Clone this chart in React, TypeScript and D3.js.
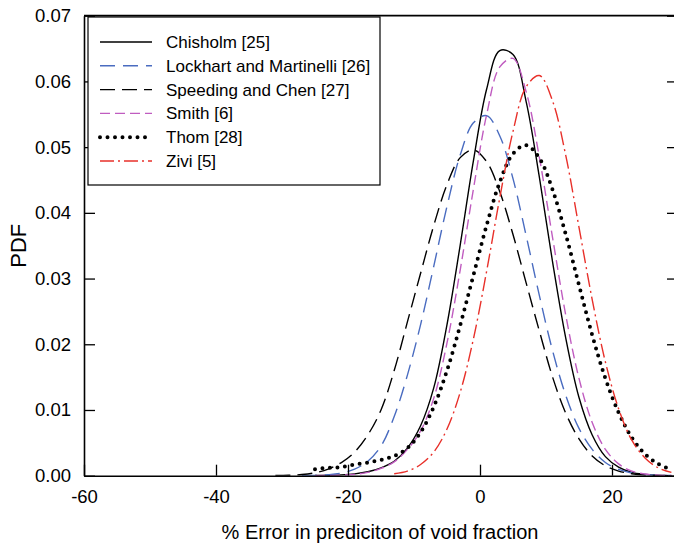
import React, { useEffect, useRef } from 'react';
import * as d3 from 'd3';

const xGrid = [-31, -29, -27, -25, -23, -21, -19, -17, -15, -13, -11, -9, -7, -5, -3, -1, 1, 3, 5, 7, 9, 11, 13, 15, 17, 19, 21, 23, 25, 27, 29];

// PDF values per correlation (null = curve not drawn there)
const chisholm = [null, null, null, 0.00003, 0.00006, 0.00012, 0.00028, 0.0006, 0.0012, 0.0022, 0.0042, 0.0076, 0.0134, 0.023, 0.0351, 0.0479, 0.0588, 0.0647, 0.0641, 0.0569, 0.0454, 0.0325, 0.0209, 0.0119, 0.0062, 0.0029, 0.0013, 0.0005, 0.0002, 0.00005, 0.00001];
const lockhart = [null, null, 0.00002, 0.00005, 0.00015, 0.0004, 0.001, 0.0022, 0.0045, 0.009, 0.0153, 0.023, 0.0319, 0.041, 0.0488, 0.0537, 0.0548, 0.0517, 0.0452, 0.0365, 0.0274, 0.019, 0.0122, 0.0072, 0.004, 0.002, 0.00095, 0.00042, 0.00017, 0.00006, 0.00002];
const speeding = [0.00002, 0.00006, 0.00018, 0.00045, 0.001, 0.002, 0.0036, 0.0062, 0.01, 0.016, 0.0234, 0.0308, 0.0381, 0.0443, 0.0484, 0.0496, 0.0478, 0.0432, 0.0367, 0.0293, 0.022, 0.015, 0.0095, 0.0056, 0.003, 0.0015, 0.0007, 0.0003, 0.0001, 0.00004, 0.00001];
const smith = [null, null, null, 0.00001, 0.00003, 0.00008, 0.0002, 0.0005, 0.0011, 0.0021, 0.004, 0.0068, 0.0118, 0.0202, 0.0313, 0.0436, 0.0549, 0.0622, 0.0635, 0.0584, 0.0484, 0.0362, 0.0244, 0.0148, 0.0081, 0.004, 0.0018, 0.0007, 0.00026, 0.00008, 0.00002];
const thom = [null, null, null, 0.001, 0.0012, 0.0013, 0.0017, 0.002, 0.0024, 0.003, 0.0042, 0.0066, 0.0105, 0.016, 0.0229, 0.0305, 0.0381, 0.0447, 0.049, 0.0503, 0.0483, 0.0435, 0.0367, 0.029, 0.0214, 0.0148, 0.0096, 0.0058, 0.0033, 0.0018, 0.0009];
const zivi = [null, null, null, null, null, null, null, null, null, 0.0003, 0.0007, 0.0017, 0.0036, 0.0071, 0.0127, 0.0208, 0.0311, 0.0423, 0.0524, 0.0592, 0.0609, 0.057, 0.0487, 0.0378, 0.0268, 0.0173, 0.0102, 0.0054, 0.0027, 0.0012, 0.0005];

const seriesNames = ['Chisholm [25]', 'Lockhart and Martinelli [26]', 'Speeding and Chen [27]', 'Smith [6]', 'Thom [28]', 'Zivi [5]'];
const seriesValues = [chisholm, lockhart, speeding, smith, thom, zivi];

const xTicks = [-60, -40, -20, 0, 20];
const yTicks = [0, 0.01, 0.02, 0.03, 0.04, 0.05, 0.06, 0.07];

const styles = [
  { color: '#000000', dash: null as string | null, width: 1.4, cap: 'butt' },
  { color: '#4a6cc0', dash: '15,8', width: 1.4, cap: 'butt' },
  { color: '#000000', dash: '15,7', width: 1.4, cap: 'butt' },
  { color: '#c05cc0', dash: '10,5', width: 1.4, cap: 'butt' },
  { color: '#000000', dash: '0,7.5', width: 4, cap: 'round' },
  { color: '#e8302a', dash: '14,4,2,4', width: 1.4, cap: 'butt' },
];

const font = "'Liberation Sans', Arial, sans-serif";

export default function App() {
  const svgRef = useRef<SVGSVGElement | null>(null);

  useEffect(() => {
    document.body.style.margin = '0';
    const svg = d3.select(svgRef.current!);
    svg.selectAll('*').remove();

    const left = 84;
    const right = 678;
    const top = 15.7;
    const bottom = 475.7;

    const x = d3.scaleLinear().domain([-60, 30]).range([left, right]);
    const y = d3.scaleLinear().domain([0, 0.07]).range([bottom, top]);

    svg
      .append('defs')
      .append('clipPath')
      .attr('id', 'plot-clip')
      .append('rect')
      .attr('x', left)
      .attr('y', top)
      .attr('width', right - left)
      .attr('height', bottom - top);

    // curves
    const line = d3
      .line<[number, number | null]>()
      .defined((d) => d[1] !== null)
      .x((d) => x(d[0]))
      .y((d) => y(d[1] as number))
      .curve(d3.curveCatmullRom.alpha(0.5));

    const curves = svg.append('g').attr('clip-path', 'url(#plot-clip)');
    seriesValues.forEach((vals, i) => {
      const s = styles[i];
      const pts = xGrid.map((xv, j) => [xv, vals[j]] as [number, number | null]);
      curves
        .append('path')
        .attr('d', line(pts))
        .attr('fill', 'none')
        .attr('stroke', s.color)
        .attr('stroke-width', s.width)
        .attr('stroke-linecap', s.cap)
        .attr('stroke-dasharray', s.dash);
    });

    // axes
    const yAxis = svg
      .append('g')
      .attr('transform', `translate(${left},0)`)
      .call(d3.axisLeft(y).tickValues(yTicks).tickFormat(d3.format('.2f')).tickSizeInner(-11).tickSizeOuter(0).tickPadding(13));
    const yAxisR = svg
      .append('g')
      .attr('transform', `translate(${right},0)`)
      .call(d3.axisRight(y).tickValues(yTicks).tickFormat(() => '').tickSizeInner(-11).tickSizeOuter(0));
    const xAxis = svg
      .append('g')
      .attr('transform', `translate(0,${bottom})`)
      .call(d3.axisBottom(x).tickValues(xTicks).tickFormat(d3.format('d')).tickSizeInner(-11).tickSizeOuter(0).tickPadding(14));
    [yAxis, yAxisR, xAxis].forEach((g) => {
      g.select('.domain').attr('stroke', '#000').attr('stroke-width', 1.6);
      g.selectAll('.tick line').attr('stroke', '#000').attr('stroke-width', 1.3);
      g.selectAll('.tick text').attr('font-family', font).attr('font-size', 18.5).attr('fill', '#000');
    });
    xAxis.selectAll('.tick text').text((d: any) => (d < 0 ? '-' + Math.abs(d) : String(d)));

    svg
      .append('line')
      .attr('x1', left)
      .attr('x2', right)
      .attr('y1', top)
      .attr('y2', top)
      .attr('stroke', '#000')
      .attr('stroke-width', 1.8);

    // titles
    svg
      .append('text')
      .attr('x', 380)
      .attr('y', 539)
      .attr('text-anchor', 'middle')
      .attr('font-family', font)
      .attr('font-size', 20)
      .text('% Error in prediciton of void fraction');
    svg
      .append('text')
      .attr('transform', `translate(26,${(top + bottom) / 2}) rotate(-90)`)
      .attr('text-anchor', 'middle')
      .attr('font-family', font)
      .attr('font-size', 22)
      .text('PDF');

    // legend
    const lg = svg.append('g');
    lg.append('rect')
      .attr('x', 88)
      .attr('y', 17)
      .attr('width', 292)
      .attr('height', 168)
      .attr('fill', '#fff')
      .attr('stroke', '#000')
      .attr('stroke-width', 1.2);
    seriesNames.forEach((name, i) => {
      const s = styles[i];
      const ly = 42 + i * 23.8;
      lg.append('line')
        .attr('x1', 100)
        .attr('x2', 152)
        .attr('y1', ly)
        .attr('y2', ly)
        .attr('stroke', s.color)
        .attr('stroke-width', s.width)
        .attr('stroke-linecap', s.cap)
        .attr('stroke-dasharray', s.dash);
      lg.append('text')
        .attr('x', 166)
        .attr('y', ly)
        .attr('dy', '0.35em')
        .attr('font-family', font)
        .attr('font-size', 17)
        .text(name);
    });
  }, []);

  return <svg ref={svgRef} width={674} height={546} style={{ display: 'block', background: '#fff' }} />;
}
